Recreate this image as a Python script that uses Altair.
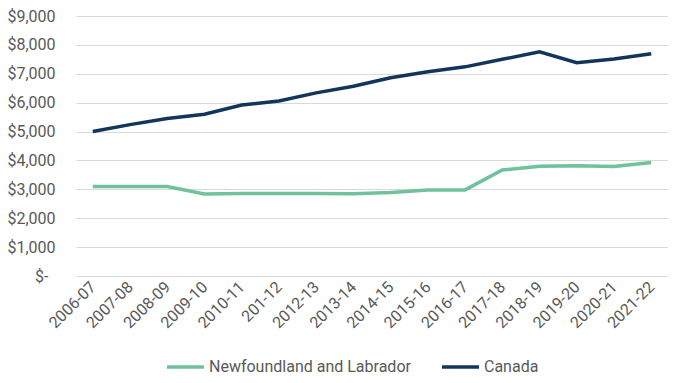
import altair as alt
import pandas as pd

years = ["2006-07", "2007-08", "2008-09", "2009-10", "2010-11", "201-12",
         "2012-13", "2013-14", "2014-15", "2015-16", "2016-17", "2017-18",
         "2018-19", "2019-20", "2020-21", "2021-22"]
nl_values = [3100, 3100, 3100, 2840, 2860, 2860, 2860, 2850, 2890, 2980,
             2980, 3670, 3800, 3820, 3790, 3930]
canada_values = [5000, 5240, 5450, 5600, 5920, 6060, 6340, 6570, 6860, 7070,
                 7240, 7500, 7760, 7380, 7510, 7690]
series_names = ["Newfoundland and Labrador", "Canada"]
series_colors = ["#6fc29b", "#12355b"]
y_ticks = [0, 1000, 2000, 3000, 4000, 5000, 6000, 7000, 8000, 9000]

rows = []
for name, vals in zip(series_names, [nl_values, canada_values]):
    for y, v in zip(years, vals):
        rows.append({"year": y, "value": v, "series": name})
df = pd.DataFrame(rows)

font = "Roboto"
label_color = "#595959"

chart = alt.Chart(df).mark_line(strokeWidth=3.5).encode(
    x=alt.X("year:N", sort=years, title=None,
            scale=alt.Scale(type="point", padding=0.45),
            axis=alt.Axis(labelAngle=-45, labelAlign="right", labelBaseline="middle",
                          labelPadding=8, ticks=False, domain=False, grid=False,
                          labelFont=font, labelFontSize=16, labelColor=label_color)),
    y=alt.Y("value:Q", title=None,
            scale=alt.Scale(domain=[0, 9000], nice=False),
            axis=alt.Axis(values=y_ticks, ticks=False, domain=False,
                          gridColor="#d9d9d9", gridWidth=1.2,
                          labelPadding={"condition": {"test": "datum.value == 0", "value": 28},
                                        "value": 21},
                          labelFont=font, labelFontSize=16,
                          labelColor=label_color,
                          labelExpr="datum.value == 0 ? '$-' : '$' + format(datum.value, ',')")),
    color=alt.Color("series:N", sort=series_names, title=None,
                    scale=alt.Scale(domain=series_names, range=series_colors),
                    legend=alt.Legend(orient="none", direction="horizontal",
                                      legendX=89, legendY=343, clipHeight=16,
                                      symbolType="stroke", symbolSize=1369,
                                      symbolStrokeWidth=3.5, labelOffset=3,
                                      columnPadding=29, labelLimit=400,
                                      labelFont=font, labelFontSize=16,
                                      labelColor=label_color)),
).properties(
    width=592, height=260,
    autosize=alt.AutoSizeParams(type="none"),
    padding={"left": 68, "top": 8, "right": 0, "bottom": 99},
).configure_view(stroke=None)

chart.save("out.html", embed_options={"renderer": "svg", "actions": False})
